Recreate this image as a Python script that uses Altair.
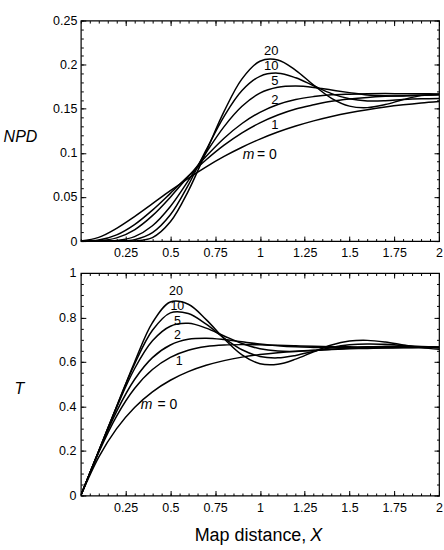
import altair as alt
import pandas as pd

# ---- data ----
X_VALS = [0.0, 0.1, 0.2, 0.3, 0.4, 0.5, 0.6, 0.7, 0.8, 0.9, 1.0,
          1.1, 1.2, 1.3, 1.4, 1.5, 1.6, 1.7, 1.8, 1.9, 2.0]

npd_m0 = [0.0, 0.0042, 0.0145, 0.0278, 0.0424, 0.0571, 0.0712, 0.0842, 0.0960, 0.1064, 0.1156,
          0.1236, 0.1304, 0.1363, 0.1413, 0.1455, 0.1490, 0.1520, 0.1545, 0.1566, 0.1583]
npd_m1 = [0.0, 0.0011, 0.0070, 0.0187, 0.0351, 0.0541, 0.0737, 0.0922, 0.1087, 0.1227, 0.1341,
          0.1430, 0.1498, 0.1545, 0.1585, 0.1611, 0.1629, 0.1641, 0.1649, 0.1654, 0.1658]
npd_m2 = [0.0, 0.0003, 0.0036, 0.0128, 0.0288, 0.0498, 0.0732, 0.0961, 0.1166, 0.1333, 0.1460,
          0.1549, 0.1606, 0.1638, 0.1658, 0.1666, 0.1671, 0.1672, 0.1671, 0.1670, 0.1668]
npd_m5 = [0.0, 0.0, 0.0007, 0.0051, 0.0174, 0.0392, 0.0685, 0.1004, 0.1298, 0.1528, 0.1677,
          0.1743, 0.1757, 0.1742, 0.1712, 0.1683, 0.1657, 0.1648, 0.1646, 0.1652, 0.1662]
npd_m10 = [0.0, 0.0, 0.0001, 0.0016, 0.0096, 0.0298, 0.0635, 0.1034, 0.1415, 0.1707, 0.1868,
           0.1904, 0.1851, 0.1761, 0.1672, 0.1613, 0.1589, 0.1591, 0.1604, 0.1613, 0.1617]
npd_m20 = [0.0, 0.0, 0.0, 0.0001, 0.0039, 0.0218, 0.0567, 0.1014, 0.1470, 0.1839, 0.2039,
           0.2053, 0.1936, 0.1768, 0.1619, 0.1530, 0.1513, 0.1548, 0.1604, 0.1649, 0.1662]

t_m0 = [0.0, 0.1728, 0.3008, 0.3956, 0.4659, 0.5179, 0.5565, 0.5850, 0.6062, 0.6219, 0.6335,
        0.6421, 0.6485, 0.6532, 0.6567, 0.6593, 0.6612, 0.6626, 0.6637, 0.6645, 0.6650]
t_m1 = [0.0, 0.1935, 0.3570, 0.4807, 0.5663, 0.6211, 0.6531, 0.6697, 0.6766, 0.6781, 0.6770,
        0.6748, 0.6725, 0.6707, 0.6690, 0.6680, 0.6673, 0.6670, 0.6668, 0.6667, 0.6667]
t_m2 = [0.0, 0.1981, 0.3784, 0.5214, 0.6196, 0.6764, 0.7018, 0.7067, 0.7007, 0.6906, 0.6808,
        0.6730, 0.6680, 0.6657, 0.6642, 0.6637, 0.6640, 0.6645, 0.6653, 0.6660, 0.6667]
t_m5 = [0.0, 0.1999, 0.3960, 0.5697, 0.6953, 0.7609, 0.7737, 0.7524, 0.7171, 0.6832, 0.6594,
        0.6490, 0.6477, 0.6513, 0.6575, 0.6633, 0.6687, 0.6703, 0.6708, 0.6697, 0.6676]
t_m10 = [0.0, 0.2000, 0.3997, 0.5907, 0.7424, 0.8209, 0.8178, 0.7698, 0.7076, 0.6549, 0.6251,
         0.6187, 0.6296, 0.6478, 0.6656, 0.6771, 0.6812, 0.6794, 0.6743, 0.6687, 0.6644]
t_m20 = [0.0, 0.2000, 0.4000, 0.5992, 0.7768, 0.8694, 0.8596, 0.7906, 0.7047, 0.6319, 0.5923,
         0.5895, 0.6128, 0.6463, 0.6763, 0.6939, 0.6972, 0.6896, 0.6768, 0.6646, 0.6569]

M_VALUES = [0, 1, 2, 5, 10, 20]

# curve labels
lab_text = ["20", "10", "5", "2", "1"]
top_lab_x = [1.063, 1.063, 1.083, 1.083, 1.083]
top_lab_y = [0.215, 0.198, 0.181, 0.160, 0.132]
bot_lab_x = [0.531, 0.539, 0.539, 0.539, 0.550]
bot_lab_y = [0.918, 0.851, 0.783, 0.723, 0.605]

x_major = [0.25, 0.5, 0.75, 1, 1.25, 1.5, 1.75, 2]
top_y_major = [0, 0.05, 0.1, 0.15, 0.2, 0.25]
bot_y_major = [0, 0.2, 0.4, 0.6, 0.8, 1]

x_minor = [round(i * 0.05, 4) for i in range(41)]
top_y_minor = [round(i * 0.01, 4) for i in range(26)]
bot_y_minor = [round(i * 0.05, 4) for i in range(21)]

FONT = "Liberation Sans"
W = 359


def long_df(series):
    rows = []
    for m, vals in zip(M_VALUES, series):
        for x, v in zip(X_VALS, vals):
            rows.append({"X": x, "v": v, "m": m})
    return pd.DataFrame(rows)


def panel(df, H, ydom, ymajor, yminor, xlabpad, ylabpad, ytitle, ttx, tty,
          labx, laby, m_pos, labsize, extra=None):
    xs = alt.Scale(domain=[0, 2], nice=False, zero=False)
    ys = alt.Scale(domain=ydom, nice=False, zero=False)
    lines = alt.Chart(df).mark_line(
        color="black", strokeWidth=1.5, interpolate="catmull-rom", clip=True
    ).encode(
        x=alt.X("X:Q", scale=xs, axis=alt.Axis(
            values=x_major, format=".3~g", labelFlush=False, ticks=False, domain=False,
            grid=False, labelPadding=xlabpad, title=None)),
        y=alt.Y("v:Q", scale=ys, axis=alt.Axis(
            values=ymajor, format=".3~g", ticks=False, domain=False, grid=False,
            labelPadding=ylabpad, title=ytitle, titleAngle=0, titleX=ttx, titleY=tty,
            titleAlign="center", titleBaseline="middle", titleFont=FONT,
            titleFontSize=16, titleFontStyle="italic", titleFontWeight="normal")),
        detail="m:N",
    )
    anchor = pd.DataFrame({"X": [0.0], "v": [ydom[0]]})

    def ticks(xo, yo, xv, yv, size):
        return alt.Chart(anchor).mark_point(opacity=0).encode(
            x=alt.X("X:Q", scale=xs, axis=alt.Axis(
                orient=xo, offset=-H, values=xv, labels=False, domain=False, grid=False,
                tickSize=size, tickColor="black", tickWidth=1, title=None)),
            y=alt.Y("v:Q", scale=ys, axis=alt.Axis(
                orient=yo, offset=-W, values=yv, labels=False, domain=False, grid=False,
                tickSize=size, tickColor="black", tickWidth=1, title=None)),
        )

    labdf = pd.DataFrame({"x": labx, "y": laby, "t": lab_text})
    labs = alt.Chart(labdf).mark_text(
        font=FONT, fontSize=labsize, color="black", align="center", baseline="middle"
    ).encode(
        x=alt.X("x:Q", scale=xs, axis=None),
        y=alt.Y("y:Q", scale=ys, axis=None),
        text="t:N",
    )
    mdf = pd.DataFrame({"x": [m_pos[0]], "y": [m_pos[2]], "t": ["m"]})
    edf = pd.DataFrame({"x": [m_pos[1]], "y": [m_pos[2]], "t": ["= 0"]})
    mlab = alt.Chart(mdf).mark_text(
        font=FONT, fontSize=14, fontStyle="italic", color="black", align="right",
        baseline="middle"
    ).encode(x=alt.X("x:Q", scale=xs, axis=None), y=alt.Y("y:Q", scale=ys, axis=None), text="t:N")
    elab = alt.Chart(edf).mark_text(
        font=FONT, fontSize=14, color="black", align="left", baseline="middle"
    ).encode(x=alt.X("x:Q", scale=xs, axis=None), y=alt.Y("y:Q", scale=ys, axis=None), text="t:N")

    layers = [lines,
              ticks("top", "right", x_major, ymajor, 5),
              ticks("bottom", "left", x_major, ymajor, 5),
              ticks("top", "right", x_minor, yminor, 2.5),
              ticks("bottom", "left", x_minor, yminor, 2.5),
              labs, mlab, elab]
    if extra:
        layers += extra
    return alt.layer(*layers).resolve_axis(x="independent", y="independent").properties(
        width=W, height=H)


npd_df = long_df([npd_m0, npd_m1, npd_m2, npd_m5, npd_m10, npd_m20])
t_df = long_df([t_m0, t_m1, t_m2, t_m5, t_m10, t_m20])

title_df = pd.DataFrame({"a": ["Map distance,"], "b": ["X"]})
xt1 = alt.Chart(title_df).mark_text(
    font=FONT, fontSize=18, color="black", align="right", baseline="middle"
).encode(x=alt.value(226), y=alt.value(264), text="a:N")
xt2 = alt.Chart(title_df).mark_text(
    font=FONT, fontSize=18, fontStyle="italic", color="black", align="left", baseline="middle"
).encode(x=alt.value(230), y=alt.value(264), text="b:N")

top = panel(npd_df, 221, [0, 0.25], top_y_major, top_y_minor, 5, 4, "NPD", -61, 116,
            top_lab_x, top_lab_y, (0.969, 0.984, 0.098), 13)
bottom = panel(t_df, 223, [0, 1], bot_y_major, bot_y_minor, 6, 5, "T", -62, 116,
               bot_lab_x, bot_lab_y, (0.40, 0.428, 0.408), 12.5, extra=[xt1, xt2])

chart = alt.vconcat(top, bottom, spacing=32, bounds="flush").properties(
    padding={"left": 2, "top": 13, "right": 0, "bottom": 0},
    background="white",
).configure_view(
    stroke="black", strokeWidth=1.2
).configure_axis(
    labelFont=FONT, labelFontSize=12.5, labelColor="black", titleColor="black",
    tickColor="black"
)

chart.save("out.html", embed_options={"renderer": "svg", "actions": False})
